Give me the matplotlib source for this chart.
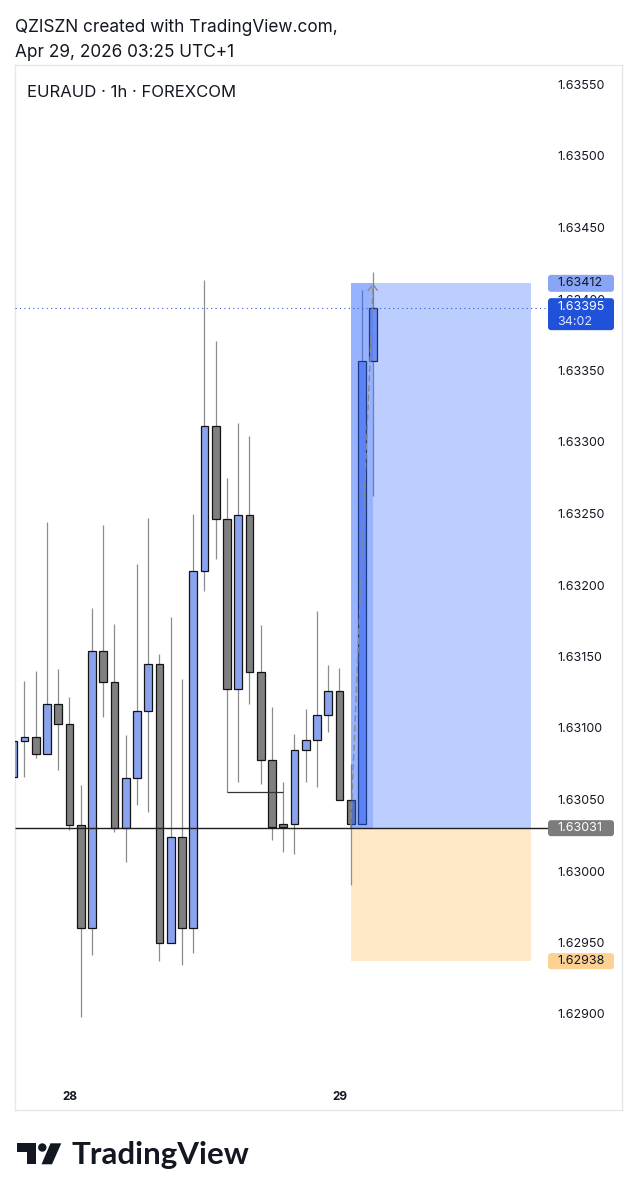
import matplotlib
matplotlib.use("Agg")
import matplotlib.pyplot as plt
from matplotlib.patches import Rectangle, FancyBboxPatch, Polygon, Circle
from matplotlib.transforms import blended_transform_factory

# EURAUD 1h, FOREXCOM - bars oldest first (bar 5 = 28th 00:00, bar 29 = 29th 00:00)
opens = [1.63067, 1.63092, 1.63095, 1.63083, 1.63118, 1.63104, 1.63033, 1.62961,
         1.63155, 1.63133, 1.63031, 1.63066, 1.63113, 1.63146, 1.62951, 1.63025,
         1.62961, 1.63211, 1.63312, 1.63247, 1.63128, 1.63250, 1.63140, 1.63079,
         1.63034, 1.63034, 1.63086, 1.63093, 1.63110, 1.63127, 1.63051, 1.63034,
         1.63358]
highs = [1.63092, 1.63134, 1.63141, 1.63245, 1.63142, 1.63123, 1.63061, 1.63185,
         1.63243, 1.63174, 1.63096, 1.63216, 1.63248, 1.63153, 1.63179, 1.63135,
         1.63251, 1.63414, 1.63372, 1.63276, 1.63314, 1.63305, 1.63173, 1.63116,
         1.63063, 1.63097, 1.63114, 1.63183, 1.63145, 1.63143, 1.63076, 1.63407,
         1.63420]
lows = [1.63067, 1.63067, 1.63080, 1.63083, 1.63072, 1.63030, 1.62899, 1.62942,
        1.63109, 1.63028, 1.63007, 1.63047, 1.63042, 1.62938, 1.62951, 1.62935,
        1.62944, 1.63197, 1.63219, 1.63056, 1.63063, 1.63118, 1.63062, 1.63023,
        1.63014, 1.63013, 1.63063, 1.63060, 1.63098, 1.63051, 1.62991, 1.63034,
        1.63263]
closes = [1.63092, 1.63095, 1.63083, 1.63118, 1.63104, 1.63033, 1.62961, 1.63155,
          1.63133, 1.63031, 1.63066, 1.63113, 1.63146, 1.62951, 1.63025, 1.62961,
          1.63211, 1.63312, 1.63247, 1.63128, 1.63250, 1.63140, 1.63079, 1.63032,
          1.63032, 1.63086, 1.63093, 1.63110, 1.63127, 1.63051, 1.63034, 1.63358,
          1.63395]

price_ticks = [1.63550, 1.63500, 1.63450, 1.63400, 1.63350, 1.63300, 1.63250,
               1.63200, 1.63150, 1.63100, 1.63050, 1.63000, 1.62950, 1.62900]
day_bars = [5, 29]
day_labels = ["28", "29"]

# long position tool
entry, target, stop = 1.63031, 1.63412, 1.62938
pos_start, pos_end = 30, 46
last_price = 1.63395
swing_low = 1.63056   # drawn line under bars 19-24

up_col = "#8ba3ee"
down_col = "#808080"
wick_col = "#8c8c8c"
ink = "#131722"

fig = plt.figure(figsize=(6.37, 11.99), dpi=100)
W, H = 637, 1199
# chart frame in pixels: x 15..622, y 65..1110
ax = fig.add_axes([15 / W, 1 - 1110 / H, 607 / W, 1045 / H])
ov = fig.add_axes([0, 0, 1, 1])
ov.set_xlim(0, W)
ov.set_ylim(H, 0)
ov.axis("off")

bar_px = 11.25
ax.set_xlim((15 - 13.2) / bar_px, (622 - 13.2) / bar_px)
px_per_price = 71.5 / 0.0005
ax.set_ylim(1.6355 - (1110 - 86) / px_per_price, 1.6355 + (86 - 65) / px_per_price)
ax.set_xticks([])
ax.set_yticks([])
for s in ax.spines.values():
    s.set_color("#e4e6eb")
    s.set_linewidth(1)

# candles
bw = 0.68
for i, (o, h, l, c) in enumerate(zip(opens, highs, lows, closes)):
    ax.vlines(i, l, h, color=wick_col, lw=0.9, zorder=2)
    col = up_col if c >= o else down_col
    ax.add_patch(Rectangle((i - bw / 2, min(o, c)), bw, max(abs(c - o), 0.000004),
                           fc=col, ec="#141414", lw=0.9, zorder=3))

ax.hlines(swing_low, 19, 24, color="#333333", lw=0.9, zorder=4)

# position tool (drawn over the bars, semi transparent)
ax.add_patch(Rectangle((pos_start, entry), pos_end - pos_start, target - entry,
                       fc="#2962ff", alpha=0.31, ec="none", zorder=5))
ax.add_patch(Rectangle((pos_start, entry), len(closes) - 1 - pos_start, target - entry,
                       fc="#2962ff", alpha=0.25, ec="none", zorder=5))
ax.add_patch(Rectangle((pos_start, stop), pos_end - pos_start, entry - stop,
                       fc="#ff9800", alpha=0.22, ec="none", zorder=5))
ax.annotate("", xy=(len(closes) - 1, target), xytext=(pos_start, entry),
            arrowprops=dict(arrowstyle="->,head_length=0.45,head_width=0.35",
                            color="#8a8a8a", lw=1, ls=(0, (4, 3)),
                            shrinkA=0, shrinkB=0), zorder=6)

x0 = ax.get_xlim()[0]
ax.hlines(entry, x0, 47.5, color="#1e1e1e", lw=1.0, zorder=6, clip_on=False)
ax.hlines(last_price, x0, 47.5, color="#3a5ad8", lw=0.8, ls=(0, (1, 3)), zorder=6,
          clip_on=False)


def price_y(p):
    disp = ax.transData.transform((0, p))
    return ov.transData.inverted().transform(disp)[1]


ytr = blended_transform_factory(ov.transData, ax.transData)
for p in price_ticks:
    ov.text(557, p, f"{p:.5f}", transform=ytr, ha="left", va="center",
            fontsize=9, family="Inter", color=ink, zorder=1)


def price_tag(p, text, bg, fg, h=17, top=None):
    y = price_y(p)
    y0 = y - h / 2 if top is None else y - top
    ov.add_patch(FancyBboxPatch((548, y0), 66, h, boxstyle="round,pad=0,rounding_size=3",
                                fc=bg, ec="none", zorder=2))
    ov.text(557.5, y0 + (h / 2 if top is None else 9), text, ha="left", va="center",
            fontsize=9, family="Inter", color=fg, zorder=3)
    return y0


price_tag(target, f"{target:.5f}", "#89a6f6", ink)
y0 = price_tag(last_price, f"{last_price:.5f}", "#1f52d8", "white", h=32, top=9.5)
ov.text(557.5, y0 + 23.5, "34:02", ha="left", va="center", fontsize=9,
        family="Inter", color="#dfe6ff", zorder=3)
price_tag(entry, f"{entry:.5f}", "#7c7c7c", "white", h=16)
price_tag(stop, f"{stop:.5f}", "#fdd193", ink, h=16)

# time axis
xtr = blended_transform_factory(ax.transData, ov.transData)
for b, lab in zip(day_bars, day_labels):
    ov.text(b, 1097, lab, transform=xtr, ha="center", va="center", fontsize=8.5,
            fontweight="bold", family="Inter", color=ink)

# header
ov.text(15, 32.3, "QZISZN created with TradingView.com,", ha="left", va="baseline",
        fontsize=12.4, family="Inter", color=ink)
ov.text(15, 57.3, "Apr 29, 2026 03:25 UTC+1", ha="left", va="baseline",
        fontsize=12.4, family="Inter", color=ink)
ov.text(27, 96.7, "EURAUD · 1h · FOREXCOM", ha="left", va="baseline",
        fontsize=12, family="Inter", color=ink)

# TradingView logo
ov.add_patch(Polygon([(17.3, 1143.3), (36, 1143.3), (36, 1164.3), (26.7, 1164.3),
                      (26.7, 1151.5), (17.3, 1151.5)], closed=True, fc=ink, ec="none"))
ov.add_patch(Circle((42.3, 1147.5), 4.2, fc=ink, ec="none"))
ov.add_patch(Polygon([(50.5, 1143.3), (61.3, 1143.3), (52, 1164.3), (41.5, 1164.3)],
                     closed=True, fc=ink, ec="none"))
ov.text(71, 1164.3, "TradingView", ha="left", va="baseline", fontsize=22.5,
        fontweight="bold", family="Lato", color=ink)

fig.savefig("out.png", dpi=100, facecolor="white")
